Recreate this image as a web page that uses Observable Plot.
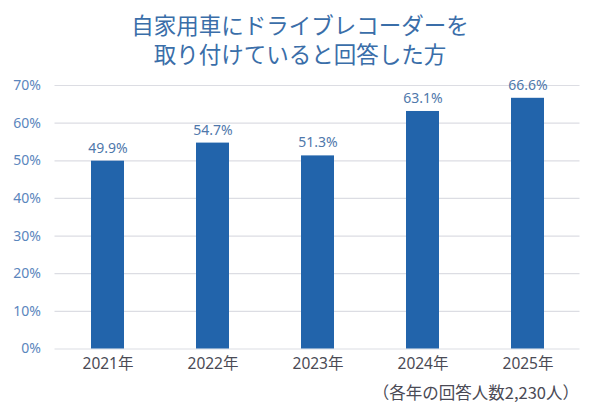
<!DOCTYPE html>
<html>
<head>
<meta charset="utf-8">
<script src="https://cdn.jsdelivr.net/npm/d3@7"></script>
<script src="https://cdn.jsdelivr.net/npm/@observablehq/plot@0.6"></script>
<style>
  html, body { margin: 0; padding: 0; background: #fff; }
  #wrap { width: 600px; height: 414px; overflow: hidden; }
  #title {
    font-family: "Liberation Sans", "Noto Sans CJK JP", sans-serif;
    font-size: 22.5px; line-height: 29px; color: #3a6ea9;
    text-align: center; padding-top: 12px; height: 58px;
  }
  svg { display: block; }
</style>
</head>
<body>
<div id="wrap">
  <div id="title">自家用車にドライブレコーダーを<br>取り付けていると回答した方</div>
  <div id="chart"></div>
</div>
<script>
const years = ["2021年", "2022年", "2023年", "2024年", "2025年"];
const values = [49.9, 54.7, 51.3, 63.1, 66.6];
const yTicks = [0, 10, 20, 30, 40, 50, 60, 70];
const note = "（各年の回答人数2,230人）";

const data = years.map((y, i) => ({year: y, value: values[i]}));

const chart = Plot.plot({
  width: 600,
  height: 344,
  marginTop: 15,
  marginBottom: 65.5,
  marginLeft: 54.5,
  marginRight: 20.5,
  style: {fontFamily: "'Noto Sans', 'Noto Sans CJK JP', sans-serif", background: "#fff"},
  x: {domain: years, paddingInner: 0.69, paddingOuter: 0.345, label: null},
  y: {domain: [0, 70], label: null},
  marks: [
    Plot.ruleY(yTicks, {stroke: "#dcdde3", strokeWidth: 1.2}),
    Plot.barY(data, {x: "year", y: "value", fill: "#2264ab"}),
    Plot.text(data, {x: "year", y: "value", text: d => d.value.toFixed(1) + "%", dy: -13, fontSize: 14, fill: "#4f78ab"}),
    Plot.axisY({ticks: yTicks, tickSize: 0, tickPadding: 14, tickFormat: d => d + "%", fontSize: 14, fill: "#5b86bd", label: null}),
    Plot.axisX({tickSize: 0, tickPadding: 9, fontSize: 15.5, fill: "#4a4a55", label: null}),
    Plot.text([note], {frameAnchor: "bottom-right", text: d => d, lineAnchor: "middle", dy: 45, dx: -1, fontSize: 16.5, fill: "#4a4a55", fontFamily: "'Noto Sans CJK JP', sans-serif", textAnchor: "end"})
  ]
});
document.getElementById("chart").appendChild(chart);
</script>
</body>
</html>
